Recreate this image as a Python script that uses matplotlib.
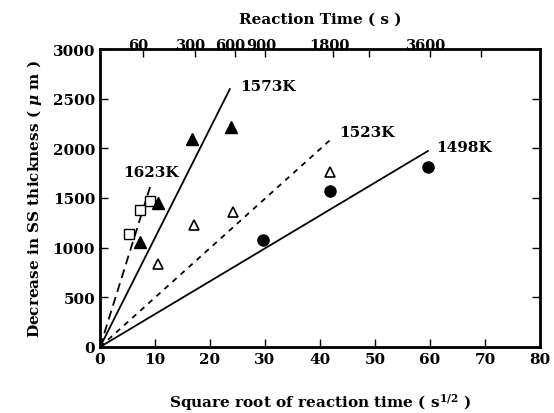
import numpy as np
import matplotlib.pyplot as plt
from matplotlib.transforms import ScaledTranslation

plt.rcParams['font.family'] = ['DejaVu Serif']
plt.rcParams['font.weight'] = 'bold'
plt.rcParams['mathtext.fontset'] = 'dejavuserif'

# sqrt(t) [s^1/2], decrease [um]
sq_x = [5.2, 7.3, 9.0]
sq_y = [1140, 1380, 1465]
ft_x = [7.3, 10.6, 16.8, 23.9]
ft_y = [1060, 1450, 2095, 2210]
ot_x = [10.6, 17.0, 24.1, 41.9]
ot_y = [835, 1230, 1355, 1760]
ci_x = [29.6, 41.9, 59.6]
ci_y = [1075, 1575, 1815]

# fitted lines from the origin: (temperature, end x, slope, style)
fit_temps = ['1623K', '1573K', '1523K', '1498K']
fit_xend = [9.1, 23.6, 41.9, 59.6]
fit_slope = [177, 110, 49.8, 33.1]
fit_style = [(0, (5, 3)), '-', (0, (3, 3)), '-']
label_xy = [(4.2, 1760), (25.5, 2625), (43.5, 2160), (61.1, 2010)]

top_times = [60, 300, 600, 900, 1800, 2400, 3600, 4800]
top_labels = ['60', '300', '600', '900', '1800', '', '3600', '']

fig = plt.figure(figsize=(5.54, 4.14), dpi=100)
ax = fig.add_axes([100 / 554, 66 / 414, 440 / 554, 298 / 414])

for xe, k, ls in zip(fit_xend, fit_slope, fit_style):
    ax.plot([0, xe], [0, k * xe], color='black', lw=1.3, linestyle=ls)
for name, (tx, ty) in zip(fit_temps, label_xy):
    ax.text(tx, ty, name, fontsize=11, fontweight='bold', va='center', ha='left')

ms = 7
ax.plot(sq_x, sq_y, 's', mfc='white', mec='black', ms=ms, mew=1.0)
ax.plot(ft_x, ft_y, '^', mfc='black', mec='black', ms=ms + 1)
ax.plot(ot_x, ot_y, '^', mfc='white', mec='black', ms=ms, mew=1.2)
ax.plot(ci_x, ci_y, 'o', mfc='black', mec='black', ms=ms + 1)

ax.set_xlim(0, 80)
ax.set_ylim(0, 3000)
ax.set_xticks(np.arange(0, 81, 10))
ax.set_yticks(np.arange(0, 3001, 500))
ax.tick_params(direction='in', length=6, width=1, labelsize=11,
               right=True, top=False)
for s in ax.spines.values():
    s.set_linewidth(2)

top = ax.twiny()
top.set_xlim(0, 80)
top.set_xticks(np.sqrt(top_times))
top.set_xticklabels(top_labels)
top.tick_params(direction='in', length=6, width=1, labelsize=10.5, pad=-2)
shift = ScaledTranslation(-3 / 72, 0, fig.dpi_scale_trans)
for lab in top.get_xticklabels():
    lab.set_transform(lab.get_transform() + shift)
top.set_xlabel('Reaction Time ( s )', fontsize=11, fontweight='bold', labelpad=11)

ax.set_xlabel('Square root of reaction time ( s$^{\\mathbf{1/2}}$ )',
              fontsize=11, fontweight='bold', labelpad=18)
ax.set_ylabel('Decrease in SS thickness ( $\\mu$ m )', fontsize=11,
              fontweight='bold', labelpad=6)

fig.savefig('out.png', dpi=100)
